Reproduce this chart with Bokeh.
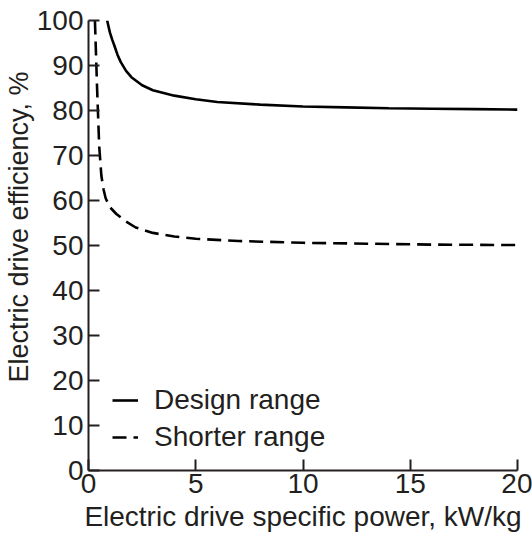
from bokeh.plotting import figure
from bokeh.models import Range1d, Legend, LegendItem, Title, FixedTicker
from bokeh.embed import file_html
from bokeh.resources import INLINE

# Electric drive efficiency vs specific power
design_x = [0.87, 1.0, 1.1, 1.2, 1.35, 1.5, 1.75, 2.0, 2.5, 3.0, 4.0, 5.0, 6.0, 8.0, 10.0, 12.0, 14.0, 16.0, 18.0, 20.0]
design_y = [100.0, 97.3, 95.8, 94.5, 92.4, 90.8, 88.8, 87.4, 85.6, 84.5, 83.3, 82.5, 81.9, 81.3, 80.9, 80.7, 80.5, 80.4, 80.3, 80.2]

shorter_x = [0.3, 0.4, 0.5, 0.6, 0.7, 0.8, 1.0, 1.3, 1.7, 2.2, 3.0, 4.0, 5.0, 7.0, 10.0, 13.0, 16.0, 20.0]
shorter_y = [100.0, 85.0, 72.0, 65.5, 62.5, 60.5, 58.5, 57.0, 55.5, 54.0, 52.8, 52.0, 51.5, 51.0, 50.6, 50.4, 50.2, 50.1]

x_ticks = [0, 5, 10, 15, 20]
y_ticks = [0, 10, 20, 30, 40, 50, 60, 70, 80, 90, 100]

INK = "#231f20"
FONT = "Liberation Sans"
FS = "28px"

p = figure(
    width=532, height=536,
    frame_width=429, frame_height=450,
    min_border_left=88, min_border_right=15, min_border_top=20, min_border_bottom=66,
    x_range=Range1d(0, 20), y_range=Range1d(0, 100),
    output_backend="svg", toolbar_location=None,
)
p.outline_line_color = None
p.grid.visible = False
p.background_fill_color = "white"
p.border_fill_color = "white"

for ax, ticks in ((p.xaxis[0], x_ticks), (p.yaxis[0], y_ticks)):
    ax.ticker = FixedTicker(ticks=ticks)
    ax.axis_line_color = INK
    ax.axis_line_width = 2
    ax.major_tick_line_color = INK
    ax.major_tick_line_width = 2
    ax.major_tick_in = 11
    ax.major_tick_out = 0
    ax.minor_tick_line_color = None
    ax.major_label_text_font = FONT
    ax.major_label_text_font_size = FS
    ax.major_label_text_color = INK

p.xaxis.major_label_standoff = 3
p.yaxis.major_label_standoff = 5
p.xaxis.axis_label = "Electric drive specific power, kW/kg"
p.xaxis.axis_label_text_font = FONT
p.xaxis.axis_label_text_font_size = FS
p.xaxis.axis_label_text_font_style = "normal"
p.xaxis.axis_label_text_color = INK
p.xaxis.axis_label_standoff = 5

# y-axis title, drawn as a left-side title so it can sit a little above centre
ytitle = Title(
    text="Electric drive efficiency, %", align="left", offset=88,
    text_font=FONT, text_font_size="27px", text_font_style="normal",
    text_color=INK, standoff=0,
)
p.add_layout(ytitle, "left")

r1 = p.line(design_x, design_y, line_color="black", line_width=2.6)
r2 = p.line(shorter_x, shorter_y, line_color="black", line_width=2.6, line_dash="14 7")

legend = Legend(
    items=[LegendItem(label="Design range", renderers=[r1]),
           LegendItem(label="Shorter range", renderers=[r2])],
    location=(24, 16),
    border_line_color=None, background_fill_alpha=0,
    label_text_font=FONT, label_text_font_size=FS, label_text_color=INK,
    glyph_width=26, glyph_height=34, label_height=34, spacing=3,
    padding=0, margin=0, label_standoff=16,
)
p.add_layout(legend)

open("out.html", "w").write(file_html(p, INLINE))
